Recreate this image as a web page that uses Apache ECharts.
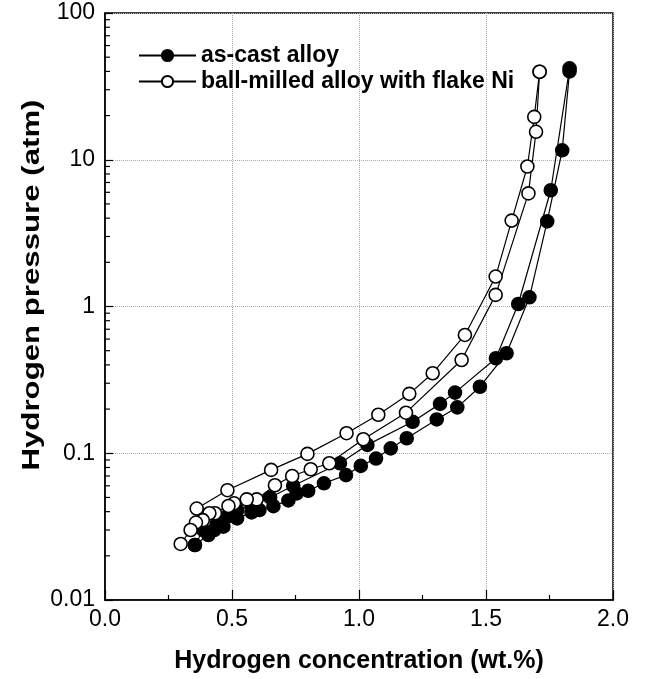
<!DOCTYPE html>
<html>
<head>
  <meta charset="utf-8">
  <title>PCT curves</title>
</head>
<body style="margin: 0">
  <div id="container" style="width: 649px; height: 679px;"></div>

  <script type="text/javascript" src="https://cdn.jsdelivr.net/npm/echarts@6/dist/echarts.min.js"></script>
  <script type="text/javascript">
    // [concentration wt.%, pressure atm]
    var asCastAbs = [
      [0.354, 0.0237], [0.387, 0.030], [0.44, 0.033], [0.479, 0.037], [0.521, 0.041],
      [0.577, 0.044], [0.65, 0.050], [0.741, 0.060], [0.925, 0.0855], [1.033, 0.114],
      [1.211, 0.164], [1.319, 0.217], [1.378, 0.259], [1.539, 0.444], [1.627, 1.04],
      [1.755, 6.2], [1.829, 42]
    ];
    var asCastDes = [
      [1.829, 40], [1.80, 11.6], [1.741, 3.8], [1.671, 1.155], [1.581, 0.48],
      [1.476, 0.284], [1.387, 0.2055], [1.306, 0.17], [1.188, 0.1265], [1.125, 0.108],
      [1.067, 0.092], [1.007, 0.082], [0.949, 0.071], [0.862, 0.0624], [0.8, 0.0555],
      [0.755, 0.0533], [0.722, 0.0477], [0.663, 0.0436], [0.608, 0.041], [0.577, 0.0395],
      [0.52, 0.036], [0.466, 0.0316], [0.43, 0.030], [0.407, 0.0277], [0.354, 0.0237]
    ];
    var milledAbs = [
      [0.361, 0.042], [0.482, 0.056], [0.654, 0.077], [0.797, 0.099], [0.951, 0.137],
      [1.076, 0.183], [1.198, 0.254], [1.29, 0.351], [1.417, 0.64], [1.538, 1.6],
      [1.601, 3.85], [1.663, 9.0], [1.69, 19.6], [1.711, 39.8]
    ];
    var milledDes = [
      [1.711, 39.8], [1.697, 15.5], [1.667, 5.9], [1.538, 1.2], [1.404, 0.432],
      [1.185, 0.189], [1.017, 0.1245], [0.883, 0.0855], [0.81, 0.0778], [0.737, 0.070],
      [0.669, 0.0605], [0.597, 0.0485], [0.558, 0.0485], [0.508, 0.0456], [0.486, 0.0437],
      [0.433, 0.039], [0.411, 0.039], [0.385, 0.035], [0.358, 0.0337], [0.337, 0.030],
      [0.298, 0.0241]
    ];
    var seriesNames = ['as-cast alloy', 'ball-milled alloy with flake Ni'];
    var xTicks = ['0.0', '0.5', '1.0', '1.5', '2.0'];

    // log minor ticks on the left axis (2..9 of each decade)
    var minorTicks = [];
    for (var k = -2; k < 2; k++) {
      for (var m = 2; m <= 9; m++) {
        minorTicks.push([0, m * Math.pow(10, k)]);
      }
    }

    var font = 'Liberation Sans, Arial, sans-serif';
    var chart = echarts.init(document.getElementById('container'), null, { renderer: 'canvas' });

    function branch(name, data, filled) {
      return {
        name: name,
        type: 'line',
        data: data,
        symbol: 'circle',
        symbolSize: 13,
        lineStyle: { color: '#000', width: 1.2 },
        itemStyle: {
          color: filled ? '#000' : '#fff',
          borderColor: '#000',
          borderWidth: 1.6
        },
        z: filled ? 3 : 4
      };
    }

    var option = {
      animation: false,
      backgroundColor: '#fff',
      grid: {
        left: 105, right: 36, top: 13, bottom: 79,
        show: true, borderColor: '#000', borderWidth: 1.5
      },
      legend: {
        data: seriesNames,
        orient: 'vertical',
        left: 138,
        top: 44,
        padding: 0,
        itemWidth: 57,
        itemHeight: 14,
        itemGap: 3,
        textStyle: { fontFamily: font, fontSize: 23, fontWeight: 'bold', color: '#000', lineHeight: 23 }
      },
      // y title drawn as text so it can be stretched along its length like the scan
      graphic: [{
        type: 'text',
        x: 32,
        y: 285,
        rotation: Math.PI / 2,
        scaleX: 1.3,
        style: {
          text: 'Hydrogen pressure (atm)',
          font: 'bold 24px ' + font,
          fill: '#000',
          align: 'center',
          verticalAlign: 'middle'
        }
      }],
      xAxis: {
        type: 'value',
        min: 0, max: 2, interval: 0.5,
        name: 'Hydrogen concentration (wt.%)',
        nameLocation: 'middle',
        nameGap: 49,
        nameTextStyle: { fontFamily: font, fontSize: 25, fontWeight: 'bold', color: '#000' },
        axisLine: { lineStyle: { color: '#000', width: 1.5 } },
        axisTick: { inside: true, length: 10, lineStyle: { color: '#000', width: 1.2 } },
        minorTick: { show: true, splitNumber: 2, length: 5, lineStyle: { color: '#000', width: 1.2 } },
        axisLabel: {
          margin: 8, color: '#000', fontFamily: font, fontSize: 23,
          formatter: function (v) { return xTicks[Math.round(v / 0.5)]; }
        },
        splitLine: { show: true, lineStyle: { color: '#aaa', type: 'dotted', width: 1 } }
      },
      yAxis: {
        type: 'log',
        logBase: 10,
        min: 0.01, max: 100,
        axisLine: { lineStyle: { color: '#000', width: 1.5 } },
        axisTick: { inside: true, length: 8, lineStyle: { color: '#000', width: 1.2 } },
        axisLabel: {
          margin: 10, color: '#000', fontFamily: font, fontSize: 23,
          formatter: function (v) { return String(+v.toPrecision(3)); }
        },
        splitLine: { show: true, lineStyle: { color: '#aaa', type: 'dotted', width: 1 } }
      },
      series: [
        branch(seriesNames[0], asCastAbs, true),
        branch(seriesNames[0], asCastDes, true),
        branch(seriesNames[1], milledAbs, false),
        branch(seriesNames[1], milledDes, false),
        {
          type: 'custom',
          silent: true,
          data: minorTicks,
          renderItem: function (params, api) {
            var p = api.coord([0, api.value(1)]);
            return {
              type: 'line',
              shape: { x1: p[0], y1: p[1], x2: p[0] + 5, y2: p[1] },
              style: { stroke: '#000', lineWidth: 1.2 }
            };
          },
          clip: false,
          z: 1
        }
      ]
    };

    chart.setOption(option);
  </script>
</body>
</html>
